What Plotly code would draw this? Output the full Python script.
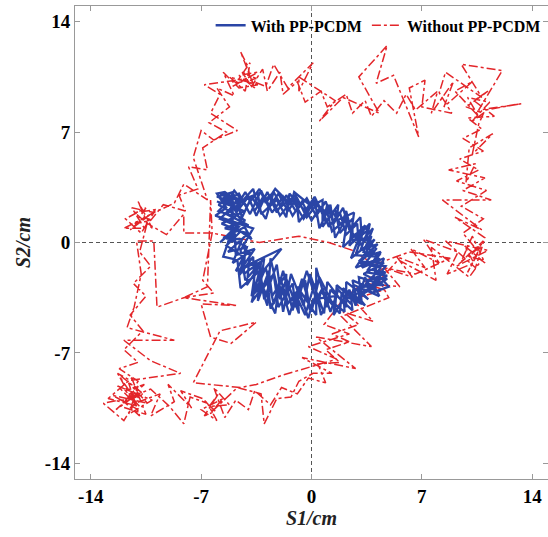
import plotly.graph_objects as go

# ---- Data ----
red_pts = [
    # pass 1
    (-11.3,-9.8), (-13.2,-10.2), (-11.9,-11.3), (-10.8,-9.5), (-12.3,-8.3), (-11.0,-10.6), (-12.6,-9.7),
    (-10.4,-10.2), (-11.6,-8.9), (-10.9,-11.0), (-12.0,-10.0), (-10.2,-9.3),
    (-9.0,-10.4), (-8.1,-11.5), (-7.7,-9.8), (-6.6,-10.2), (-6.0,-11.3), (-7.0,-10.6), (-5.6,-9.9),
    (-6.4,-10.8), (-4.7,-9.2), (-3.2,-9.6), (-3.0,-11.5), (-2.2,-9.9), (-1.3,-9.8), (-0.8,-8.8),
    (0.1,-8.3), (1.3,-8.3), (-0.6,-7.3), (2.8,-8.0), (0.3,-6.0), (3.8,-6.6), (1.9,-4.7), (3.4,-4.1),
    (4.9,-3.5), (4.3,-2.4), (5.5,-1.1), (7.9,-2.4), (7.6,-0.3), (10.0,-2.2), (10.8,-1.1), (10.0,-0.9),
    (10.8,-0.1), (9.2,-1.5), (11.2,-0.5), (8.5,0.1), (10.4,-1.6), (11.0,0.3),
    (9.1,1.6), (10.8,0.8), (8.3,2.7), (11.4,2.7), (9.6,3.3), (11.0,4.1), (8.7,4.6), (10.4,5.0),
    (9.8,3.8), (10.0,6.0), (11.5,6.9), (10.2,5.6), (10.6,7.5), (11.0,8.4), (13.3,8.8), (10.6,8.4),
    (12.1,10.9), (9.5,11.3), (10.8,9.2), (8.5,10.8), (8.1,9.5), (8.9,8.2), (7.0,8.6), (7.2,10.3),
    (6.2,9.8), (6.8,6.7), (5.2,10.6), (4.1,10.1), (4.8,12.5), (3.0,10.5), (4.3,8.2), (2.0,9.2),
    (0.5,7.7), (1.5,9.0), (-0.8,10.5), (-0.8,9.6), (0.1,11.4), (-1.5,9.8), (-2.4,11.3), (-2.9,9.9),
    (-3.9,10.3), (-4.0,11.1), (-4.5,12.1), (-3.6,9.8), (-4.6,10.6), (-3.4,10.8), (-5.0,9.9), (-4.1,10.4),
    (-6.8,10.0), (-5.8,9.4), (-6.4,8.2), (-4.7,7.1), (-6.2,6.5), (-7.0,7.1), (-7.5,5.4), (-6.6,2.7),
    (-8.1,3.7), (-8.7,2.5), (-10.6,1.6), (-11.5,0.8), (-9.8,2.1), (-11.2,1.9), (-10.1,0.9), (-11.0,2.6),
    (-10.4,1.2), (-9.2,0.5),
    (-8.1,1.8), (-8.1,0.6), (-6.3,0.6), (-3.3,0.0), (-0.8,0.4), (1.1,0.0), (2.6,-0.5), (4.0,-1.4),
    (6.2,-0.6), (8.8,-1.0), (6.6,-2.0), (4.6,-1.6), (3.0,-2.8), (2.0,-3.6), (0.8,-5.2), (2.4,-5.8),
    (-0.2,-6.6), (1.6,-7.4), (-1.8,-8.4), (-3.5,-9.0), (-4.5,-9.2), (-7.5,-8.9), (-5.8,-5.6),
    (-3.5,-5.05), (-5.1,-6.4), (-6.4,-6.0), (-7.0,-3.9), (-4.7,-4.0), (-8.1,-3.5), (-6.6,-2.8),
    (-6.4,2.7), (-6.3,0.6), (-6.9,-2.4), (-6.2,-3.2), (-8.1,-3.5), (-9.8,-4.1), (-10.0,0.1),
    (-11.1,0.1), (-10.8,-2.0), (-11.25,-4.1), (-11.7,-5.4), (-8.7,-6.2), (-11.9,-6.2), (-10.2,-7.5),
    (-8.3,-8.3), (-11.5,-8.75), (-12.3,-8.3), (-11.3,-9.8),
    # pass 2
    (-12.4,-10.6), (-10.6,-9.0), (-11.8,-9.4), (-10.9,-10.4), (-12.9,-9.9), (-11.4,-8.6), (-10.5,-10.9),
    (-12.1,-10.4), (-11.0,-9.1), (-11.6,-10.9), (-10.1,-10.0), (-12.3,-9.1), (-11.2,-10.2),
    (-9.6,-9.6), (-10.2,-11.0), (-8.7,-10.1), (-9.1,-9.0), (-7.6,-10.5), (-8.3,-9.4), (-6.9,-9.9),
    (-6.1,-10.7), (-6.8,-11.0), (-5.9,-9.6), (-6.5,-10.4), (-5.2,-10.3), (-6.2,-9.2), (-5.5,-11.1),
    (-4.8,-10.0), (-4.0,-10.6), (-3.6,-9.4), (-2.6,-10.3), (-1.9,-9.2), (-0.9,-9.6), (-0.2,-8.6),
    (0.9,-8.9), (0.4,-7.7), (1.8,-7.6), (0.9,-6.8), (2.4,-6.3), (1.3,-5.8), (3.0,-5.2), (2.0,-4.4),
    (3.9,-5.0), (2.6,-3.6), (4.6,-3.0), (3.4,-2.6), (5.6,-2.8), (4.6,-1.6), (6.4,-2.2), (5.4,-0.9),
    (7.2,-1.6), (6.3,-0.4), (8.1,-1.3), (7.1,0.2), (9.3,-0.6), (8.6,-2.0), (10.3,-1.3),
    (9.7,-0.2), (11.0,-1.3), (10.2,0.4), (9.5,-1.2), (10.9,0.1), (9.9,-1.9), (10.6,-0.6), (9.6,0.6),
    (10.9,1.5), (9.5,2.3), (11.1,3.3), (9.2,3.9), (10.6,4.6), (9.4,5.3), (10.9,5.8), (9.6,6.6),
    (10.8,7.2), (9.9,7.9), (11.6,8.0), (10.3,9.0), (11.2,9.6), (9.8,8.6), (10.9,8.2), (10.1,7.6),
    (11.3,8.9), (9.9,9.2), (10.6,8.0), (9.1,9.6),
    (10.2,10.2), (8.4,8.6), (9.0,10.2), (7.6,8.2), (8.0,9.6), (6.6,8.4), (6.0,9.4), (5.4,8.2),
    (4.6,9.0), (3.8,8.0), (3.4,9.0), (2.6,8.2), (2.2,9.4), (1.0,8.6), (0.6,9.6), (-0.4,8.9),
    (-0.9,10.2), (-1.8,9.4), (-2.0,10.8), (-2.8,9.6), (-3.1,11.0),
    (-3.8,9.9), (-4.4,10.8), (-3.5,10.4), (-4.8,10.1), (-3.9,11.4), (-4.2,9.6), (-5.2,10.5),
    (-3.4,10.0), (-4.6,9.8), (-5.6,10.8), (-4.9,9.3),
    (-6.0,9.8), (-5.2,8.6), (-6.5,7.6), (-5.4,7.0), (-6.9,6.0), (-6.6,4.6), (-7.8,4.8), (-7.2,3.4),
    (-8.4,3.0), (-8.0,2.0), (-9.4,2.4),
    (-10.2,1.4), (-11.2,1.2), (-10.5,2.2), (-11.8,1.5), (-10.8,0.6), (-10.0,1.9), (-11.4,2.2),
    (-10.6,0.9), (-11.9,0.9), (-10.3,1.7),
    (-10.9,-0.6), (-10.2,-1.5), (-11.3,-2.6), (-10.5,-3.4), (-11.5,-4.6), (-10.7,-5.6), (-11.9,-6.8),
    (-11.0,-7.6), (-12.2,-8.0), (-11.0,-8.8), (-11.8,-10.1), (-10.7,-9.6), (-11.3,-9.8),
]

blue_pts = [
    (-5.6,2.9), (-4.8,2.2), (-4.2,3.2), (-3.6,2.0), (-3.0,3.0), (-2.5,1.9), (-1.8,2.9), (-1.2,1.7),
    (-0.6,2.6), (0.0,1.4), (0.6,2.3), (1.1,1.0), (1.8,1.9), (2.2,0.5), (2.9,1.2), (3.0,-0.2),
    (3.8,0.4), (3.4,-0.9), (4.4,-0.6), (3.6,-1.7), (4.7,-1.9), (3.5,-2.5), (4.2,-3.1), (2.6,-2.4),
    (2.9,-3.8), (1.6,-2.7), (1.5,-4.2), (0.5,-2.2), (0.0,-4.4), (-0.6,-2.3), (-1.2,-4.3), (-1.8,-1.8),
    (-2.4,-3.9), (-2.9,-1.6), (-3.6,-3.2), (-3.7,-0.9), (-4.6,-2.1), (-4.1,-0.3), (-5.3,-0.6),
    (-4.0,0.6), (-5.5,0.9), (-4.2,1.4), (-5.9,2.4),
    (-4.6,3.1), (-3.9,1.8), (-3.2,3.3), (-2.7,2.2), (-2.1,3.1), (-1.5,2.0), (-0.9,2.8), (-0.3,1.6),
    (0.4,2.5), (0.9,1.3), (1.5,2.1), (1.8,0.6), (2.6,1.5), (2.6,0.0), (3.6,0.8), (3.1,-0.5),
    (4.2,-0.1), (3.0,-1.2), (4.6,-1.3), (3.3,-2.0), (4.5,-2.6), (2.9,-2.9), (3.6,-3.6), (2.2,-2.5),
    (2.2,-4.1), (1.0,-2.5), (0.8,-4.5), (-0.1,-2.0), (-0.5,-4.0), (-1.3,-2.0), (-1.8,-4.4),
    (-2.2,-1.4), (-3.0,-3.6), (-3.3,-1.5), (-4.1,-2.7), (-3.9,-0.6), (-5.0,-1.3), (-4.4,0.2),
    (-5.6,0.3), (-4.0,1.1), (-5.4,1.8), (-4.5,2.4), (-6.0,2.9),
    (-5.0,3.2), (-4.4,1.6), (-3.8,2.9), (-2.9,1.5), (-2.4,3.2), (-1.9,2.3), (-1.0,3.0), (-0.8,1.3),
    (0.2,2.7), (0.5,0.9), (1.2,2.4), (1.5,0.3), (2.3,1.7), (2.0,-0.3), (3.3,1.0), (2.5,-1.0),
    (4.0,0.2), (2.8,-1.6), (4.3,-1.0), (3.9,-2.3), (4.8,-2.3), (3.2,-3.3), (4.0,-2.8), (2.5,-3.4),
    (2.6,-4.3), (1.2,-3.0), (1.0,-4.1), (0.3,-1.6), (0.3,-4.6), (-0.9,-2.8), (-0.8,-4.5),
    (-1.6,-2.3), (-2.0,-3.6), (-2.6,-1.0), (-2.8,-4.0), (-3.4,-2.2), (-1.9,-0.4), (-4.4,-1.6),
    (-3.6,-0.4), (-4.8,-0.8), (-4.9,1.0), (-3.8,0.2), (-5.1,2.5), (-5.0,0.0), (-5.0,2.7), (-5.8,3.1),
    (-4.4,2.7), (-3.4,3.1), (-3.2,1.8), (-2.2,2.7), (-1.6,1.6), (-1.4,3.1), (-0.4,2.0), (0.2,2.9),
    (0.8,1.6), (1.0,2.4), (1.9,1.1), (2.2,2.0), (2.6,0.4), (3.5,1.0), (3.6,-0.4), (3.9,-0.5),
    (3.0,-1.3), (4.4,-1.6), (3.4,-2.7), (4.6,-2.7), (3.0,-2.2), (3.2,-3.9), (1.9,-3.3), (1.8,-4.5),
    (0.6,-3.1), (0.4,-3.9), (-0.3,-1.8), (-1.0,-4.1), (-1.2,-2.6), (-2.1,-4.1), (-2.4,-2.0),
    (-3.3,-3.2), (-3.0,-1.0), (-4.2,-2.4), (-4.5,-0.5), (-3.7,0.9), (-5.3,1.4), (-4.3,2.0), (-5.6,2.6),
    (-5.2,3.0), (-4.7,2.0), (-4.0,2.9), (-3.5,1.7), (-2.8,3.2), (-2.2,1.9), (-1.6,3.0), (-1.0,2.0),
    (-0.3,2.8), (0.3,1.7), (0.9,2.6), (1.4,1.2), (2.0,2.2), (2.4,0.8), (3.1,1.6), (3.2,0.1),
    (3.9,0.9), (3.3,-0.6), (4.3,-0.8), (3.8,-1.4), (4.7,-1.5), (3.7,-2.9), (4.4,-2.2), (3.0,-3.5),
    (3.4,-4.0), (2.0,-2.9), (2.1,-4.4), (1.1,-3.6), (0.6,-4.6), (0.2,-2.6), (-0.4,-4.6), (-1.0,-3.3),
    (-1.4,-4.6), (-1.9,-2.8), (-2.6,-4.2), (-2.8,-2.4), (-3.8,-3.4), (-3.5,-1.3), (-4.8,-1.8),
    (-4.3,-0.9), (-5.4,-0.2), (-4.5,0.7), (-5.7,1.2), (-4.8,1.6), (-5.9,2.0),
    (-5.3,2.6), (-4.9,3.3), (-4.1,2.3), (-3.3,3.4), (-2.9,2.5), (-2.3,3.4), (-1.3,2.4), (-1.1,3.2),
    (0.0,2.3), (0.7,2.7), (0.7,1.0), (1.7,2.4), (1.6,1.4), (2.7,1.9), (2.4,-0.2), (3.7,1.2),
    (3.5,0.2), (4.1,-0.4), (3.2,-1.6), (4.6,-1.0), (4.2,-2.0), (4.9,-2.8), (3.8,-3.2), (3.4,-2.2),
    (2.8,-4.0), (2.4,-3.0), (1.4,-4.6), (1.5,-3.4), (0.1,-3.6), (-0.2,-4.8), (-0.7,-3.3), (-1.5,-3.8),
    (-2.0,-2.2), (-2.3,-4.5), (-3.1,-2.8), (-3.8,-3.8), (-3.3,-1.8), (-4.5,-2.9), (-4.7,-1.1),
    (-5.6,-0.9), (-5.1,0.6), (-5.8,0.0), (-4.6,1.2), (-6.1,1.7), (-5.4,2.2), (-6.0,3.1),
    (-5.5,3.2), (-4.5,2.5), (-3.7,3.4), (-3.4,2.3), (-2.6,3.0), (-2.0,1.7), (-1.2,2.7), (-0.5,1.5),
    (0.1,2.5), (1.0,1.9), (1.3,0.7), (2.1,1.4), (2.8,0.3), (3.4,1.1), (2.8,-0.8), (4.1,-0.9),
    (3.5,-1.9), (4.8,-2.1), (3.9,-2.6), (4.3,-3.4), (2.7,-2.7), (2.5,-3.9), (1.7,-3.0), (1.2,-4.4),
    (0.7,-2.9), (-0.1,-4.3), (-0.4,-2.4), (-1.6,-4.0), (-1.6,-2.0), (-2.5,-3.4), (-2.7,-1.8),
    (-3.4,-3.7), (-3.2,-1.2), (-4.3,-2.0), (-4.2,-0.2), (-5.3,0.2), (-4.6,1.0), (-5.8,1.5),
    (-5.0,2.3), (-6.0,2.6),
]

red_x = [p[0] for p in red_pts]
red_y = [p[1] for p in red_pts]
blue_x = [p[0] for p in blue_pts]
blue_y = [p[1] for p in blue_pts]

tick_vals = [-14, -7, 0, 7, 14]
tick_text = ["-14", "-7", "0", "7", "14"]

FONT = "Liberation Serif, Times New Roman, serif"

fig = go.Figure()
fig.add_trace(go.Scatter(
    x=red_x, y=red_y, mode="lines", name="Without PP-PCDM",
    line=dict(color="#e3262a", width=1.5, dash="dashdot"), legendrank=2,
))
fig.add_trace(go.Scatter(
    x=blue_x, y=blue_y, mode="lines", name="With PP-PCDM",
    line=dict(color="#2a45a6", width=2.3), legendrank=1,
))

fig.add_vline(x=0, line=dict(color="#555555", width=1, dash="4px,3px"), layer="below")
fig.add_hline(y=0, line=dict(color="#555555", width=1, dash="4px,3px"), layer="below")

axis_common = dict(
    tickvals=tick_vals, ticktext=tick_text, ticks="inside", ticklen=5,
    tickcolor="#999999", showline=True, linecolor="#999999", linewidth=1,
    mirror="ticks", showgrid=False, zeroline=False,
    tickfont=dict(family=FONT, size=19, color="black", weight="bold"),
)

fig.update_layout(
    width=548, height=537,
    margin=dict(l=75, r=0, t=6, b=58),
    paper_bgcolor="white", plot_bgcolor="white",
    xaxis=dict(range=[-15, 15],
               title=dict(text="<b><i>S1/cm</i></b>", font=dict(family=FONT, size=20, color="#222"), standoff=4),
               **axis_common),
    yaxis=dict(range=[-15, 15],
               title=dict(text="<b><i>S2/cm</i></b>", font=dict(family=FONT, size=20, color="#222"), standoff=8),
               **axis_common),
    legend=dict(orientation="h", x=0.995, xanchor="right", y=0.995, yanchor="top",
                bgcolor="rgba(255,255,255,0)", itemwidth=30,
                font=dict(family=FONT, size=16, color="black", weight="bold"),
                tracegroupgap=0),
    showlegend=True,
)

fig.write_html("out.html")
